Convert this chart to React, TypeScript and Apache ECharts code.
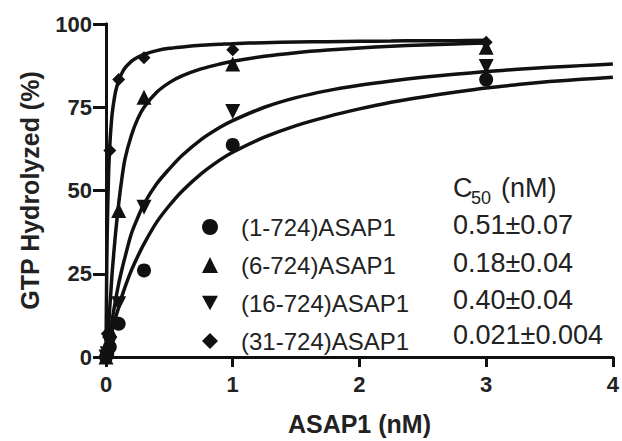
import React, { useEffect, useRef } from "react";
import * as echarts from "echarts";

// ---- Data ----
const xTicks = [0, 1, 2, 3, 4];
const yTicks = [0, 25, 50, 75, 100];

const seriesNames = ["(1-724)ASAP1", "(6-724)ASAP1", "(16-724)ASAP1", "(31-724)ASAP1"];
const c50Labels = ["0.51\u00b10.07", "0.18\u00b10.04", "0.40\u00b10.04", "0.021\u00b10.004"];

// measured points
const pointX = [0, 0.01, 0.03, 0.1, 0.3, 1, 3];
const circleY = [0, 1, 3, 10, 26, 63.7, 83.3];
const triUpY = [0, 2, 8, 44, 78, 88, 93];
const triDownY = [0, 1, 4, 16, 45, 73.7, 87.2];
const diamondY = [0, 7, 62, 83.3, 89.9, 92.3, 94.5];

// fitted curves
const curveX = [0, 0.005, 0.01, 0.02, 0.03, 0.04, 0.05, 0.075, 0.1, 0.125, 0.15, 0.2, 0.25, 0.3, 0.4, 0.5, 0.6, 0.75, 0.9, 1, 1.25, 1.5, 1.75, 2, 2.25, 2.5, 2.75, 3, 3.25, 3.5, 3.75, 4];
const curve1 = [0, 0.9, 1.7, 3.4, 5, 6.5, 8, 11.7, 15, 18.2, 21, 26, 30.2, 34, 40.5, 45.5, 49.8, 55, 59.2, 61.5, 66, 69.5, 72.2, 74.5, 76.5, 78.1, 79.5, 80.8, 81.8, 82.7, 83.4, 84];
const curve2 = [0, 1.5, 3.5, 9, 15, 20.5, 26, 37, 46, 53.5, 59.5, 66.5, 71.5, 75, 79.5, 82.4, 84.4, 86.5, 88, 88.8, 90.3, 91.4, 92.2, 92.8, 93.3, 93.7, 94, 94.3];
const curve3 = [0, 1, 2.2, 4.5, 7, 9.2, 11.5, 17, 22, 26.2, 30, 37, 41.8, 46, 52, 56.5, 60.5, 65.3, 69, 71, 75, 77.9, 80, 81.6, 82.9, 84, 84.9, 85.7, 86.4, 87, 87.5, 88];
const curve4 = [0, 24, 38, 54.5, 63.5, 69.3, 73.5, 79.6, 83, 85.2, 86.8, 88.8, 90, 90.9, 92, 92.7, 93.1, 93.6, 93.9, 94.1, 94.4, 94.6, 94.7, 94.8, 94.9, 95, 95, 95.1];

const downTri = "path://M0,0 L10,0 L5,9 Z";
const FONT = "Liberation Sans, Arial, Helvetica, sans-serif";
const INK = "#111";
const TXT = "#222";

function zip(xs: number[], ys: number[]) {
  return ys.map((y, i) => [xs[i], y]);
}

export default function App() {
  const ref = useRef<HTMLDivElement>(null);
  useEffect(() => {
    if (!ref.current) return;
    const chart = echarts.init(ref.current, undefined, { renderer: "svg" });

    const axisLine = { show: true, lineStyle: { color: INK, width: 3 } };
    const symbols = ["circle", "triangle", downTri, "diamond"];
    const sizes = [14, 15, 15, 13];
    const pts = [circleY, triUpY, triDownY, diamondY];
    const curves = [curve1, curve2, curve3, curve4];

    const lineSeries = curves.map((c, i) => ({
      type: "line",
      name: "fit" + i,
      data: zip(curveX, c),
      showSymbol: false,
      symbol: "none",
      smooth: 0.3,
      lineStyle: { color: INK, width: 3.5 },
      itemStyle: { color: INK },
      z: 2,
      silent: true,
    }));
    const scatterSeries = pts.map((p, i) => ({
      type: "scatter",
      name: seriesNames[i],
      data: zip(pointX, p),
      symbol: symbols[i],
      symbolSize: sizes[i],
      itemStyle: { color: INK, opacity: 1 },
      z: 3,
    }));

    const rowsY = [225, 263, 300, 335];
    const graphics: any[] = [
      { type: "text", x: 453, y: 188, style: { text: "C", fontSize: 27, fontFamily: FONT, fill: TXT, verticalAlign: "middle" } },
      { type: "text", x: 471, y: 198, style: { text: "50", fontSize: 18, fontFamily: FONT, fill: TXT, verticalAlign: "middle" } },
      { type: "text", x: 501, y: 188, style: { text: "(nM)", fontSize: 27, fontFamily: FONT, fill: TXT, verticalAlign: "middle" } },
      ...c50Labels.map((t, i) => ({
        type: "text",
        x: 453,
        y: rowsY[i],
        style: { text: t, fontSize: 27, fontFamily: FONT, fill: TXT, verticalAlign: "middle" },
      })),
    ];

    chart.setOption({
      animation: false,
      backgroundColor: "#fff",
      textStyle: { fontFamily: FONT },
      grid: { left: 106, right: 8, top: 24, bottom: 80 },
      legend: {
        data: seriesNames.map((n, i) => ({ name: n, icon: symbols[i] })),
        orient: "vertical",
        left: 197,
        top: 210,
        itemWidth: 16,
        itemHeight: 16,
        itemGap: 14,
        selectedMode: false,
        textStyle: { fontSize: 24, color: TXT, fontFamily: FONT, padding: [0, 0, 0, 18] },
      },
      xAxis: [
        {
          type: "value",
          min: xTicks[0],
          max: xTicks[xTicks.length - 1],
          interval: 1,
          position: "bottom",
          axisLine,
          axisTick: { show: true, length: 10, lineStyle: { color: INK, width: 3 } },
          axisLabel: { fontSize: 22, fontWeight: "bold", color: TXT, margin: 16, fontFamily: FONT },
          splitLine: { show: false },
          name: "ASAP1 (nM)",
          nameLocation: "middle",
          nameGap: 54,
          nameTextStyle: { fontSize: 25, fontWeight: "bold", color: TXT, fontFamily: FONT },
        },
        {
          type: "value",
          min: 0,
          max: 4,
          position: "top",
          axisLine,
          axisTick: { show: false },
          axisLabel: { show: false },
          splitLine: { show: false },
        },
      ],
      yAxis: [
        {
          type: "value",
          min: yTicks[0],
          max: yTicks[yTicks.length - 1],
          interval: 25,
          axisLine,
          axisTick: { show: true, length: 13, lineStyle: { color: INK, width: 3 } },
          axisLabel: { fontSize: 22, fontWeight: "bold", color: TXT, margin: 14, fontFamily: FONT },
          splitLine: { show: false },
          name: "GTP Hydrolyzed (%)",
          nameLocation: "middle",
          nameGap: 64,
          nameTextStyle: { fontSize: 25, fontWeight: "bold", color: TXT, fontFamily: FONT },
        },
        {
          type: "value",
          min: 0,
          max: 100,
          position: "right",
          axisLine,
          axisTick: { show: false },
          axisLabel: { show: false },
          splitLine: { show: false },
        },
      ],
      series: [...lineSeries, ...scatterSeries],
      graphic: graphics,
    });
    return () => chart.dispose();
  }, []);
  return <div ref={ref} style={{ position: "fixed", left: 0, top: 0, width: 622, height: 441 }} />;
}
